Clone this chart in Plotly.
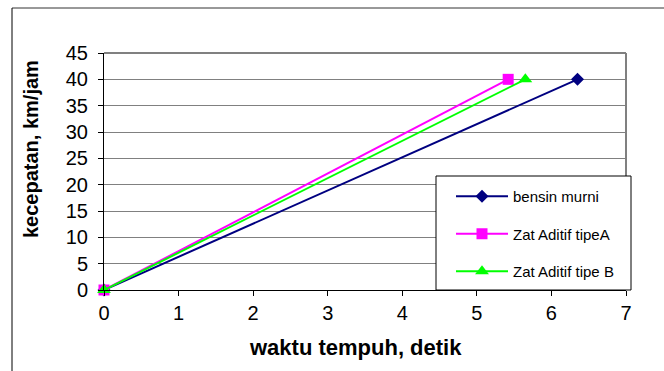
import plotly.graph_objects as go

series_names = ["bensin murni", "Zat Aditif tipeA", "Zat Aditif tipe B"]
waktu = {
    "bensin murni": [0, 6.35],
    "Zat Aditif tipeA": [0, 5.42],
    "Zat Aditif tipe B": [0, 5.65],
}
kecepatan = {
    "bensin murni": [0, 40],
    "Zat Aditif tipeA": [0, 40],
    "Zat Aditif tipe B": [0, 40],
}
x_ticks = [0, 1, 2, 3, 4, 5, 6, 7]
y_ticks = [0, 5, 10, 15, 20, 25, 30, 35, 40, 45]
x_title = "waktu tempuh, detik"
y_title = "kecepatan, km/jam"

styles = {
    "bensin murni": dict(color="#000080", symbol="diamond", size=10),
    "Zat Aditif tipeA": dict(color="#FF00FF", symbol="square", size=11),
    "Zat Aditif tipe B": dict(color="#00FF00", symbol="triangle-up", size=12),
}

fig = go.Figure()
for i, name in enumerate(series_names):
    st = styles[name]
    fig.add_trace(go.Scatter(
        x=waktu[name], y=kecepatan[name], name=name, mode="lines+markers",
        legendgroup=f"g{i}",
        line=dict(color=st["color"], width=2),
        marker=dict(color=st["color"], symbol=st["symbol"], size=st["size"]),
        cliponaxis=False,
    ))

# plot-area geometry in pixels (for paper-coordinate conversion)
L, R, T, B = 104, 626, 53, 290
W, H = R - L, B - T

def px(xp):
    return (xp - L) / W

def py(yp):
    return (B - yp) / H

font_family = "Liberation Sans, Arial, sans-serif"
fig.update_layout(
    width=664, height=371,
    margin=dict(l=L, r=664 - R, t=T, b=371 - B),
    paper_bgcolor="white", plot_bgcolor="white",
    font=dict(family=font_family, color="black", size=20),
    showlegend=True,
    legend=dict(
        x=px(451), y=py(180), xanchor="left", yanchor="top",
        bgcolor="rgba(0,0,0,0)", borderwidth=0,
        font=dict(size=15, family=font_family),
        tracegroupgap=15,
        traceorder="grouped",
        itemwidth=52,
    ),
    xaxis=dict(
        range=[0, 7], tickvals=x_ticks, ticks="outside", ticklen=5,
        tickcolor="black", showline=True, linecolor="black", linewidth=1,
        showgrid=False, zeroline=False, mirror=False,
        tickfont=dict(size=20),
    ),
    yaxis=dict(
        range=[0, 45], tickvals=y_ticks, ticks="outside", ticklen=5,
        tickcolor="black", showline=True, linecolor="black", linewidth=1,
        showgrid=True, gridcolor="#808080", gridwidth=1, zeroline=False,
        tickfont=dict(size=20), ticklabelstandoff=6,
    ),
    annotations=[
        dict(text=f"<b>{x_title}</b>", xref="paper", yref="paper",
             x=px(355), y=py(347), xanchor="center", yanchor="middle",
             showarrow=False, font=dict(size=22)),
        dict(text=f"<b>{y_title}</b>", xref="paper", yref="paper",
             x=px(31), y=py(149), xanchor="center", yanchor="middle",
             textangle=-90, showarrow=False, font=dict(size=20)),
    ],
    shapes=[
        dict(type="line", xref="paper", yref="paper", x0=0, x1=1, y0=1, y1=1,
             line=dict(color="#808080", width=2)),
        dict(type="line", xref="paper", yref="paper", x0=1, x1=1, y0=0, y1=1,
             line=dict(color="#808080", width=2)),
        dict(type="line", xref="paper", yref="paper",
             x0=px(12), x1=px(664), y0=py(8), y1=py(8),
             line=dict(color="#333333", width=1)),
        dict(type="line", xref="paper", yref="paper",
             x0=px(12), x1=px(12), y0=py(8), y1=py(371),
             line=dict(color="black", width=1)),
        # legend box
        dict(type="rect", xref="paper", yref="paper", layer="above",
             x0=px(436), x1=px(631), y0=py(290), y1=py(176),
             fillcolor="white", line=dict(color="black", width=1)),
    ],
)

fig.write_html("out.html", config={"displayModeBar": False},
               post_script="document.body.style.margin='0px';document.body.style.overflow='hidden';")
